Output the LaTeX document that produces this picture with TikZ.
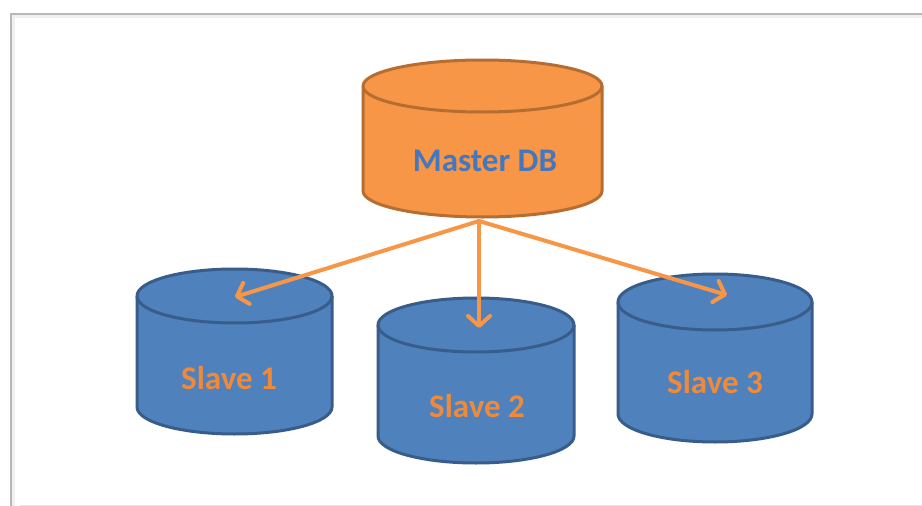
\documentclass[tikz,border=0pt]{standalone}
\usepackage{fontspec}
\setmainfont{Carlito}
\usetikzlibrary{arrows.meta}
\definecolor{mfill}{HTML}{F79646}
\definecolor{mline}{HTML}{B66D31}
\definecolor{sfill}{HTML}{4F81BD}
\definecolor{sline}{HTML}{385D8A}
\definecolor{mtext}{HTML}{4577BE}
\definecolor{stext}{HTML}{EE8A3A}
\definecolor{frameln}{HTML}{B8B8B8}
% database cylinder: centre x, top-ellipse y, bottom-ellipse y, x radius, y radius, fill, line
\newcommand\dbcyl[7]{%
  \filldraw[fill=#6,draw=#7,line width=3pt,line join=round]
    (#1-#4,#2) -- (#1-#4,#3)
    arc[start angle=180,end angle=0,x radius=#4,y radius=#5]
    -- (#1+#4,#2)
    arc[start angle=0,end angle=-180,x radius=#4,y radius=#5] -- cycle;
  \draw[draw=#7,line width=3pt]
    (#1+#4,#2) arc[start angle=0,end angle=180,x radius=#4,y radius=#5];
}
\begin{document}
\begin{tikzpicture}[x=1pt,y=-1pt,
  mlabel/.style={font=\bfseries\fontsize{33}{33}\selectfont,text=mtext,inner sep=0pt},
  slabel/.style={font=\bfseries\fontsize{33}{33}\selectfont,text=stext,inner sep=0pt},
  link/.style={draw=mfill,line width=4pt,line cap=round,
    -{Straight Barb[length=10pt,width=22pt,line join=round,line cap=round]}}]
  \useasboundingbox (0,0) rectangle (922,506);
  \fill[white] (0,0) rectangle (922,506);

  % page frame with a soft shadow
  \draw[gray!12,line width=5pt] (12,506) -- (12,15) -- (922,15);
  \draw[frameln,line width=2pt] (11,506) -- (11,14) -- (922,14);
  \draw[gray!20,line width=1pt] (20,505.5) -- (922,505.5);

  % databases
  \dbcyl{482.5}{86}{191}{119.5}{26}{mfill}{mline}
  \dbcyl{234.5}{296}{407}{97.5}{27}{sfill}{sline}
  \dbcyl{476}{325}{436}{98}{27}{sfill}{sline}
  \dbcyl{715}{302}{414}{97}{28}{sfill}{sline}

  % labels
  \node[mlabel] (master) at (485,161) {Master DB};
  \node[slabel] (slave1) at (229,378) {Slave 1};
  \node[slabel] (slave2) at (477,406) {Slave 2};
  \node[slabel] (slave3) at (715,382) {Slave 3};

  % replication links
  \coordinate (src) at (479,221);
  \coordinate (t1) at (235,297);
  \coordinate (t2) at (479,328);
  \coordinate (t3) at (727,295);
  \draw[link] (src) -- (t1);
  \draw[link] (src) -- (t2);
  \draw[link] (src) -- (t3);
\end{tikzpicture}
\end{document}
